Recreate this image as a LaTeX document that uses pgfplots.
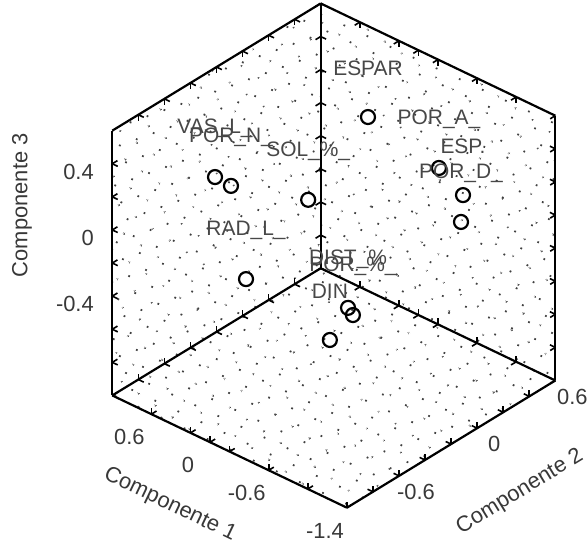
\documentclass[border=0pt]{standalone}
\usepackage{fontspec}
\setmainfont{Liberation Sans}
\usepackage{pgfplots}
\pgfplotsset{compat=1.18}
\usetikzlibrary{patterns.meta}
\begin{document}
\begin{tikzpicture}[font=\fontsize{20}{24}\selectfont]
\begin{axis}[
  set layers,
  x dir=reverse,
  x={(97.75bp,-46.77bp)}, y={(130.25bp,79.5bp)}, z={(0bp,165.5bp)},
  xmin=-1.4, xmax=1.0, ymin=-1, ymax=0.6, zmin=-1, zmax=0.6,
  xtick={-1.4,-0.6,0,0.6}, minor xtick={-1,-0.2,0.2,1},
  ytick={-0.6,0,0.6}, minor ytick={-0.8,-0.4,-0.2,0.2,0.4},
  ztick={-0.4,0,0.4}, minor ztick={-0.8,-0.6,-0.2,0.2},
  /pgf/number format/assume math mode=true,
  tick label style={font=\fontsize{22}{26}\selectfont, text=black!78},
  xticklabel style={anchor=center, xshift=-22bp, yshift=-23bp},
  yticklabel style={anchor=center, xshift=17bp, yshift=-16bp},
  zticklabel style={anchor=east, xshift=-15bp, yshift=-8bp},
  label style={font=\fontsize{22}{26}\selectfont, text=black!78},
  xlabel={Componente 1}, ylabel={Componente 2}, zlabel={Componente 3},
  xlabel style={at={(axis cs:-0.36,-1.578,-1)}, anchor=center, sloped like x axis},
  ylabel style={at={(axis cs:-2.245,-0.305,-1)}, anchor=center, sloped like y axis},
  zlabel style={at={(axis cs:1,-1.693,0.482)}, anchor=center, rotate=0},
  axis line style={line width=2.2bp},
  tick style={black, line width=1.6bp},
  major tick length=6bp, minor tick length=6bp,
  clip=false,
]
\coordinate (I) at (axis cs:1,0.6,-1);
\begin{pgfonlayer}{axis background}
\fill[pattern={Dots[distance=18bp, angle=20, radius=1.25bp]}, pattern color=black!75]
  (axis cs:1,-1,-1) -- (axis cs:1,-1,0.6) -- (axis cs:1,0.6,0.6) -- (axis cs:-1.4,0.6,0.6) -- (axis cs:-1.4,0.6,-1) -- (axis cs:-1.4,-1,-1) -- cycle;
\fill[pattern={Dots[distance=21bp, angle=-35, radius=1.1bp, xshift=6bp]}, pattern color=black!70]
  (axis cs:1,-1,-1) -- (axis cs:1,-1,0.6) -- (axis cs:1,0.6,0.6) -- (axis cs:-1.4,0.6,0.6) -- (axis cs:-1.4,0.6,-1) -- (axis cs:-1.4,-1,-1) -- cycle;
\end{pgfonlayer}
\addplot3[only marks, mark=o, mark size=7bp, mark options={line width=2.2bp, black},
  point meta=explicit symbolic, nodes near coords,
  every node near coord/.append style={anchor=center, yshift=49bp, inner sep=0pt, text=black!72, font=\fontsize{21}{25}\selectfont}]
coordinates {
(-0.046,0.178,0.412) [ESPAR]
(0.782,-0.375,0.081) [VAS\_L\_]
(0.696,-0.317,0.024) [POR\_N\_]
(0.278,-0.038,-0.076) [SOL\_\%\_]
(-0.431,0.434,0.090) [POR\_A\_]
(-0.561,0.521,-0.079) [ESP.]
(-0.550,0.514,-0.241) [POR\_D\_]
(0.614,-0.263,-0.542) [RAD\_L\_]
(0.062,0.106,-0.737) [DIST\_\%]
(0.035,0.123,-0.781) [POR\_\%\_]
(0.160,0.040,-0.927) [DIN]
};
\end{axis}
\pgfresetboundingbox
\path[use as bounding box] ([shift={(-320.7bp,-284.75bp)}]I) rectangle ([shift={(267.3bp,268.25bp)}]I);
\end{tikzpicture}
\end{document}
